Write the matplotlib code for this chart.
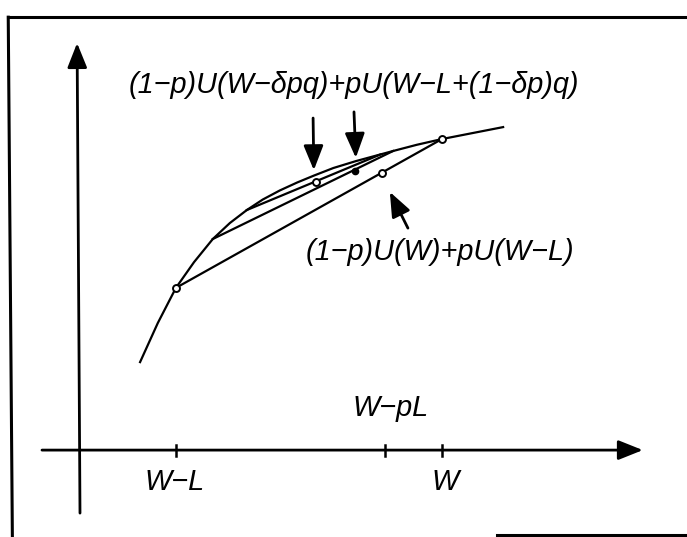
import numpy as np
import matplotlib.pyplot as plt
from matplotlib.lines import Line2D

plt.rcParams['font.family'] = ['Liberation Sans', 'DejaVu Sans']

# Utility curve U(w)
w_curve = [1.66, 2.15, 2.65, 3.15, 3.67, 4.14, 4.61, 5.05, 5.52, 6.0, 6.46, 7.0, 7.62, 8.65, 9.3, 10.0, 11.69]
u_curve = [2.43, 3.51, 4.48, 5.19, 5.83, 6.27, 6.63, 6.92, 7.17, 7.39, 7.58, 7.79, 7.98, 8.26, 8.43, 8.59, 8.92]

# Wealth levels on the horizontal axis
W_L, W_pL, W = 2.65, 8.43, 10.0
tick_pos = [W_L, W_pL, W]

# Chords: (w_lo, u_lo, w_hi, u_hi)
chord_big = (2.65, 4.48, 10.0, 8.59)
chord_mid = (3.67, 5.83, 8.65, 8.26)
chord_top = (4.61, 6.63, 8.29, 8.16)

# Marked points
open_pts_w = [2.65, 10.0, 6.52, 8.33]
open_pts_u = [4.48, 8.59, 7.40, 7.65]
dot_w, dot_u = 7.60, 7.72

# Pointer arrows (tail -> tip)
arrows = [((6.44, 9.17), (6.46, 7.73)),
          ((7.57, 9.34), (7.62, 8.07)),
          ((9.06, 6.13), (8.56, 7.13))]

fig = plt.figure(figsize=(6.87, 5.37), dpi=100)
ax = fig.add_axes([0, 0, 1, 1])
ax.set_xlim(-2.21, 16.77)
ax.set_ylim(-2.40, 12.43)
ax.axis('off')

head = '-|>,head_length=1.5,head_width=0.6'

# axes with arrow heads
ax.annotate('', xy=(-0.08, 11.24), xytext=(0.0, -1.74),
            arrowprops=dict(arrowstyle=head, color='k', lw=2.0,
                            mutation_scale=10, shrinkA=0, shrinkB=0))
ax.annotate('', xy=(15.55, 0.0), xytext=(-1.05, 0.0),
            arrowprops=dict(arrowstyle=head, color='k', lw=2.0,
                            mutation_scale=10, shrinkA=0, shrinkB=0))

for t in tick_pos:
    ax.plot([t, t], [-0.15, 0.15], color='k', lw=1.8)

# curve and chords
ax.plot(w_curve, u_curve, color='k', lw=1.6, solid_joinstyle='round')
for c in [chord_big, chord_mid, chord_top]:
    ax.plot([c[0], c[2]], [c[1], c[3]], color='k', lw=1.6)

ax.plot(open_pts_w, open_pts_u, 'o', ms=5, mfc='white', mec='k', mew=1.4, zorder=5)
ax.plot([dot_w], [dot_u], 'o', ms=4.5, mfc='k', mec='k', zorder=5)

for tail, tip in arrows:
    ax.annotate('', xy=tip, xytext=tail,
                arrowprops=dict(arrowstyle=head, color='k', lw=2.0,
                                mutation_scale=10, shrinkA=0, shrinkB=0))

# labels
fs = 20.8
ax.text(7.57, 10.08, '(1\u2212p)U(W\u2212\u03b4pq)+pU(W\u2212L+(1\u2212\u03b4p)q)',
        fontsize=fs, style='italic', ha='center', va='center')
ax.text(6.24, 5.47, '(1\u2212p)U(W)+pU(W\u2212L)',
        fontsize=fs, style='italic', ha='left', va='center')
ax.text(8.59, 1.16, 'W\u2212pL', fontsize=fs, style='italic', ha='center', va='center')
ax.text(2.62, -0.88, 'W\u2212L', fontsize=fs, style='italic', ha='center', va='center')
ax.text(10.08, -0.88, 'W', fontsize=fs, style='italic', ha='center', va='center')

# frame lines
fig.add_artist(Line2D([0.012, 1.0], [0.968, 0.968], color='k', lw=2.2))
fig.add_artist(Line2D([0.012, 0.018], [0.968, 0.0], color='k', lw=2.2))
fig.add_artist(Line2D([0.723, 1.0], [0.004, 0.004], color='k', lw=2.2))

fig.savefig('out.png', dpi=100)
